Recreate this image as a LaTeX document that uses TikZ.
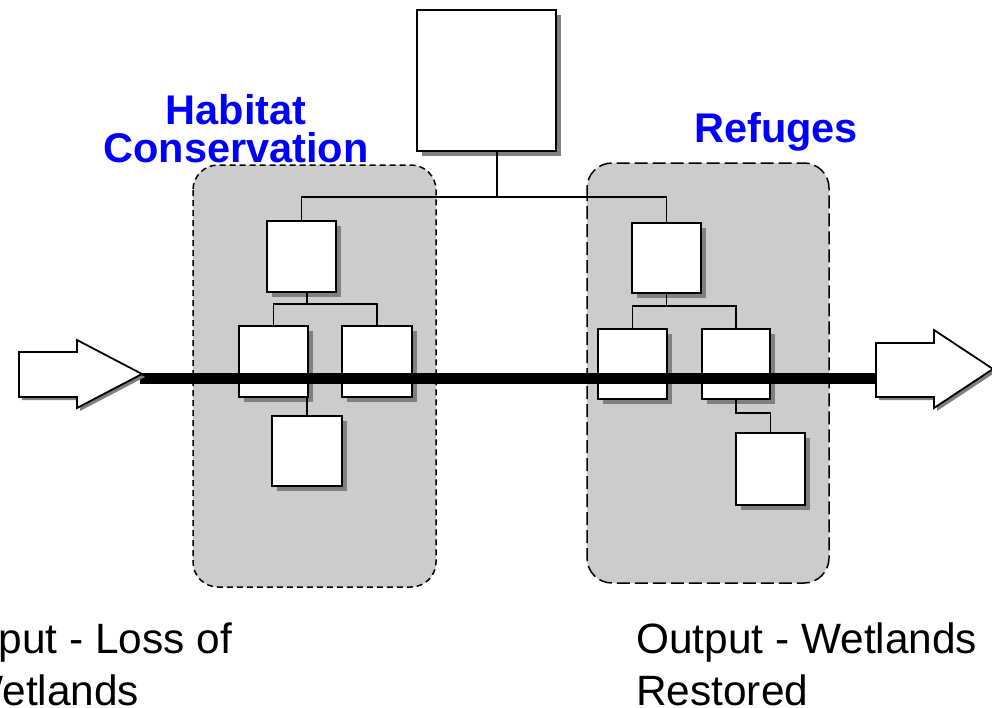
\documentclass[tikz,border=0pt]{standalone}
\usepackage{fontspec}
\setmainfont{Liberation Sans}
\usetikzlibrary{shadows}
\definecolor{grpgray}{HTML}{CCCCCC}
\definecolor{shgray}{HTML}{808080}
\definecolor{ttlblue}{HTML}{0000FF}
\begin{document}
\begin{tikzpicture}[x=1pt,y=-1pt,
  bx/.style={draw, fill=white, line width=2pt, inner sep=0pt,
    minimum width=69pt, minimum height=71pt,
    drop shadow={shadow xshift=5pt, shadow yshift=-5pt, fill=shgray, opacity=1}},
  grp/.style={draw, fill=grpgray, line width=1.5pt, rounded corners=25pt},
  conn/.style={draw, line width=1.4pt},
  thick line/.style={line width=11pt},
  arr/.style={draw, fill=white, line width=1.8pt, line join=miter,
    drop shadow={shadow xshift=3pt, shadow yshift=-3pt, fill=shgray, opacity=1}},
  ttl/.style={font=\fontsize{41.5}{38}\selectfont\bfseries, text=ttlblue, align=center, inner sep=0pt},
  lab/.style={font=\fontsize{42.4}{52}\selectfont, align=left, inner sep=0pt}]
\useasboundingbox (0,0) rectangle (992,707);
\fill[white] (0,0) rectangle (992,707);
% groups
\draw[grp, dash pattern=on 6pt off 4pt] (193,165) rectangle (436,587);
\draw[grp, dash pattern=on 13pt off 5pt] (587,163) rectangle (829,583);
% boxes
\node[bx, minimum width=139pt, minimum height=141pt] (top) at (486.5,80.5) {};
\node[bx] (A1) at (301.5,256.5) {};
\node[bx] (A2) at (273.5,361.5) {};
\node[bx, minimum width=70pt] (A3) at (377,361.5) {};
\node[bx, minimum width=70pt, minimum height=70pt] (A4) at (307,451) {};
\node[bx, minimum height=70pt] (B1) at (666.5,258) {};
\node[bx, minimum height=70pt] (B2) at (632.5,364) {};
\node[bx, minimum width=68pt, minimum height=70pt] (B3) at (736,364) {};
\node[bx, minimum height=72pt] (B4) at (770.5,469) {};
% connectors
\coordinate (tj) at (497,197);
\coordinate (aj) at (307,304);
\coordinate (bj) at (666.5,306);
\coordinate (cj) at (753,413);
\draw[conn] (top.south -| tj) -- (tj);
\draw[conn] (A1.north) |- (tj) -| (B1.north);
\draw[conn] (A1.south -| aj) -- (aj);
\draw[conn] (A2.north) |- (aj) -| (A3.north);
\draw[conn] (A4.north) -- (A4.north |- A2.south);
\draw[conn] (B1.south) -- (bj);
\draw[conn] (B2.north) |- (bj) -| (B3.north);
\draw[conn] (B3.south) |- (cj) -| (B4.north);
% thick flow line
\coordinate (ls) at (140,378.5);
\coordinate (le) at (880,378.5);
\draw[thick line] (ls) -- (le);
% arrows
\draw[arr] (19,352) -- (77,352) -- (77,340) -- (142,374) -- (77,408) -- (77,397) -- (19,397) -- cycle;
\draw[arr] (876,343) -- (934,343) -- (934,330) -- (993,369) -- (934,408) -- (934,397) -- (876,397) -- cycle;
% titles
\node[ttl, anchor=base] (t1) at (236,162) {Habitat\\Conservation};
\node[ttl, anchor=base] (t2) at (776,142) {Refuges};
% labels
\node[lab, anchor=base west] (in) at (-37,705) {Input - Loss of\\Wetlands};
\node[lab, anchor=base west] (out) at (636,705) {Output - Wetlands\\Restored};
\end{tikzpicture}
\end{document}
